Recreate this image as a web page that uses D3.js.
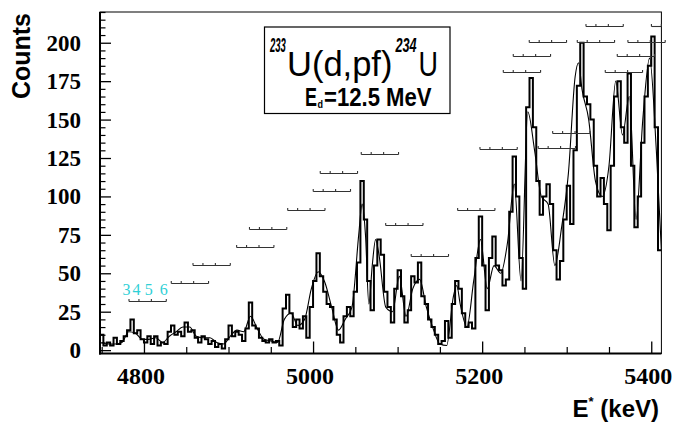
<!DOCTYPE html>
<html>
<head>
<meta charset="utf-8">
<script src="https://cdn.jsdelivr.net/npm/d3@7"></script>
<style>
  html, body { margin: 0; padding: 0; background: #fff; }
  svg { display: block; }
  .num { font-family: "Liberation Serif", "DejaVu Serif", "Times New Roman", serif; font-weight: bold; }
  .spin { font-family: "Liberation Serif", "DejaVu Serif", "Times New Roman", serif; }
  .sans { font-family: "Liberation Sans", Arial, "DejaVu Sans", sans-serif; }
</style>
</head>
<body>
<svg id="chart" width="674" height="423"></svg>
<script>
// Excitation-energy spectrum, 233U(d,pf)234U at Ed = 12.5 MeV

// Histogram: counts per 4 keV bin starting at 4748 keV
const binStart = 4748;
const binWidth = 4;
const counts = [
  10, 3, 5, 3, 8, 4, 6, 9, 13, 20,
  11, 13, 7, 5, 9, 4, 9, 3, 5, 4,
  12, 16, 10, 12, 9, 18, 12, 13, 8, 5,
  9, 7, 4, 6, 2, 4, 1, 7, 16, 9,
  12, 10, 6, 14, 31, 16, 14, 8, 6, 5,
  7, 5, 6, 3, 27, 36, 24, 15, 20, 14,
  22, 8, 28, 45, 63, 48, 38, 30, 28, 20,
  10, 5, 22, 28, 22, 38, 57, 110, 85, 45,
  26, 55, 72, 62, 38, 28, 18, 40, 52, 35,
  18, 26, 48, 44, 57, 35, 30, 20, 15, 10,
  4, 6, 19, 8, 30, 45, 40, 24, 15, 18,
  14, 60, 87, 55, 26, 60, 74, 55, 52, 42,
  46, 90, 126, 100, 60, 40, 158, 177, 145, 110,
  88, 100, 108, 95, 65, 46, 58, 85, 107, 82,
  130, 172, 200, 165, 160, 150, 120, 100, 112, 95,
  78, 120, 165, 175, 145, 135, 180, 120, 80, 100,
  135, 165, 185, 204, 145, 65
];

// Fitted spectrum (sum of band members), sampled in keV
const fitE = [
  4750, 4758, 4766, 4774, 4782, 4790, 4798, 4806, 4814, 4822,
  4830, 4838, 4846, 4854, 4862, 4870, 4878, 4886, 4894, 4902,
  4910, 4918, 4926, 4934, 4942, 4950, 4958, 4966, 4974, 4982,
  4990, 4998, 5006, 5014, 5022, 5030, 5038, 5046, 5054, 5058,
  5062, 5066, 5070, 5074, 5078, 5086, 5094, 5102, 5110, 5118,
  5126, 5134, 5142, 5150, 5158, 5166, 5170, 5174, 5182, 5190,
  5198, 5206, 5214, 5222, 5230, 5238, 5246, 5254, 5262, 5270,
  5278, 5286, 5294, 5302, 5310, 5314, 5318, 5326, 5334, 5342,
  5350, 5358, 5366, 5374, 5382, 5390, 5398, 5406, 5412
];
const fitC = [
  5, 4, 4, 5, 12, 11, 7, 7, 8, 5,
  9, 12, 15, 15, 9, 8, 8, 5, 4, 9,
  13, 12, 22, 14, 7, 6, 5, 20, 24, 16,
  20, 40, 51, 44, 28, 13, 20, 28, 75, 95,
  75, 30, 55, 72, 62, 28, 25, 48, 22, 40,
  46, 28, 14, 4, 3, 35, 42, 30, 15, 45,
  72, 40, 55, 50, 70, 108, 45, 155, 130, 100,
  95, 55, 80, 115, 178, 187, 170, 150, 110, 100,
  120, 175, 140, 165, 85, 150, 190, 130, 65
];

// Rotational bands: head energy of the I=3 member (keV), drawing level (counts), highest spin shown
const bandHead  = [4782.3, 4832.3, 4858.0, 4909.6, 4924.8, 4970.0, 5000.2, 5008.5, 5057.0, 5085.9, 5116.1, 5171.0,
                   5197.4, 5266.3, 5283.4, 5225.0, 5236.8, 5255.7, 5312.5, 5322.8, 5345.6, 5359.8, 5372.4, 5400.2];
const bandLevel = [32.0, 43.6, 55.7, 67.4, 79.0, 91.2, 103.3, 115.2, 127.3, 81.4, 61.4, 91.3,
                   131.0, 131.2, 141.0, 181.0, 191.1, 200.7, 200.7, 211.0, 181.0, 191.1, 200.7, 211.0];
const bandTopSpin = [6, 6, 6, 6, 6, 6, 6, 6, 6, 6, 6, 6, 6, 6, 6, 6, 6, 6, 6, 6, 6, 6, 6, 4];
const rotConst = 1.47;          // keV, E(I) = E(3) + A [I(I+1) - 12]
const spinLabels = ["3", "4", "5", "6"];

const xTicksMajor = [4800, 5000, 5200, 5400];
const yTicksMajor = [0, 25, 50, 75, 100, 125, 150, 175, 200];

const svg = d3.select("#chart");
const L = 100, R = 661.4, T = 12, B = 353.5;

const x = d3.scaleLinear().domain([4748, 5412]).range([L, R]);
const y = d3.scaleLinear().domain([-2.2, 220]).range([B, T]);

svg.append("defs").append("clipPath").attr("id", "plotClip")
  .append("rect").attr("x", L).attr("y", T).attr("width", R - L).attr("height", B - T);

// Frame
svg.append("rect").attr("x", L).attr("y", T).attr("width", R - L).attr("height", B - T)
  .attr("fill", "none").attr("stroke", "#000").attr("stroke-width", 1);
svg.append("line").attr("x1", L).attr("x2", L).attr("y1", T).attr("y2", B + 1)
  .attr("stroke", "#000").attr("stroke-width", 2);
svg.append("line").attr("x1", L - 1).attr("x2", R).attr("y1", B).attr("y2", B)
  .attr("stroke", "#000").attr("stroke-width", 2);

// Y axis ticks (inside) and labels
svg.append("g").attr("transform", `translate(${L},0)`)
  .call(d3.axisRight(y).tickValues(yTicksMajor).tickSize(11).tickFormat(""))
  .call(g => g.select(".domain").remove())
  .call(g => g.selectAll("line").attr("stroke", "#000").attr("stroke-width", 1.3));
const yMinor = d3.range(0, 221, 5).filter(v => v % 25 !== 0);
svg.append("g").attr("transform", `translate(${L},0)`)
  .call(d3.axisRight(y).tickValues(yMinor).tickSize(5.5).tickFormat(""))
  .call(g => g.select(".domain").remove())
  .call(g => g.selectAll("line").attr("stroke", "#000").attr("stroke-width", 1.2));
svg.append("g").selectAll("text").data(yTicksMajor).join("text")
  .attr("class", "num")
  .attr("x", 81).attr("y", d => y(d) + 8)
  .attr("text-anchor", "end")
  .style("font-size", "23px")
  .text(d => d);

// X axis ticks (inside) and labels
svg.append("g").attr("transform", `translate(0,${B})`)
  .call(d3.axisTop(x).tickValues(xTicksMajor).tickSize(12).tickFormat(""))
  .call(g => g.select(".domain").remove())
  .call(g => g.selectAll("line").attr("stroke", "#000").attr("stroke-width", 1.3));
const xMinor = d3.range(4750, 5412, 50).filter(v => !xTicksMajor.includes(v));
svg.append("g").attr("transform", `translate(0,${B})`)
  .call(d3.axisTop(x).tickValues(xMinor).tickSize(6.5).tickFormat(""))
  .call(g => g.select(".domain").remove())
  .call(g => g.selectAll("line").attr("stroke", "#000").attr("stroke-width", 1.2));
svg.append("g").selectAll("text").data(xTicksMajor).join("text")
  .attr("class", "num")
  .attr("x", d => x(d) - 3).attr("y", 384)
  .attr("text-anchor", "middle")
  .style("font-size", "24px")
  .text(d => d);

// Axis titles
svg.append("text")
  .attr("class", "sans")
  .attr("transform", "translate(30,13) rotate(-90)")
  .attr("text-anchor", "end")
  .style("font-weight", "bold").style("font-size", "25px")
  .text("Counts");
const xt = svg.append("text")
  .attr("class", "sans")
  .attr("x", 659).attr("y", 417)
  .attr("text-anchor", "end")
  .style("font-weight", "bold").style("font-size", "24px");
xt.append("tspan").text("E");
xt.append("tspan").style("font-size", "13px").attr("dy", -11).text("*");
xt.append("tspan").attr("dy", 11).text(" (keV)");

const plot = svg.append("g").attr("clip-path", "url(#plotClip)");

// Histogram outline
const histPts = counts.map((c, i) => [binStart + i * binWidth, c]);
histPts.push([binStart + counts.length * binWidth, counts[counts.length - 1]]);
plot.append("path")
  .datum(histPts)
  .attr("fill", "none").attr("stroke", "#000").attr("stroke-width", 2)
  .attr("d", d3.line().x(d => x(d[0])).y(d => y(d[1])).curve(d3.curveStepAfter));

// Fit curve
plot.append("path")
  .datum(fitE.map((e, i) => [e, fitC[i]]))
  .attr("fill", "none").attr("stroke", "#000").attr("stroke-width", 1.1)
  .attr("d", d3.line().x(d => x(d[0])).y(d => y(d[1])).curve(d3.curveMonotoneX));

// Band combs
const combs = svg.append("g").attr("stroke", "#333").attr("stroke-width", 1.1).attr("fill", "none");
bandHead.forEach((e0, k) => {
  const spins = d3.range(3, bandTopSpin[k] + 1);
  const es = spins.map(I => e0 + rotConst * (I * (I + 1) - 12));
  const yy = Math.round(y(bandLevel[k])) + 0.5;
  combs.append("line")
    .attr("x1", x(es[0])).attr("x2", x(es[es.length - 1]))
    .attr("y1", yy).attr("y2", yy);
  es.forEach(ev => {
    combs.append("line")
      .attr("x1", x(ev)).attr("x2", x(ev))
      .attr("y1", yy).attr("y2", yy - 2.5);
  });
});

// Spin labels above the first band
const firstBand = spinLabels.map(s => {
  const I = +s;
  return { s, e: bandHead[0] + rotConst * (I * (I + 1) - 12) };
});
svg.append("g").selectAll("text").data(firstBand).join("text")
  .attr("class", "spin")
  .attr("x", d => x(d.e) - 2.5).attr("y", y(bandLevel[0]) - 5.5)
  .attr("text-anchor", "middle")
  .style("font-size", "16px")
  .attr("fill", "#2fd0d6")
  .text(d => d.s);

// Reaction label box
svg.append("rect").attr("x", 264.5).attr("y", 27).attr("width", 185.5).attr("height", 86.5)
  .attr("fill", "#fff").attr("stroke", "#000").attr("stroke-width", 1.2);

// Each piece is a text scaled horizontally so the narrow lettering keeps its true extent
const piece = (txt, px, py, size, sx, opts = {}) => svg.append("text").attr("class", "sans")
  .attr("transform", `translate(${px},${py}) scale(${sx},1)`)
  .style("font-size", size + "px")
  .style("font-weight", opts.bold ? "bold" : "normal")
  .style("font-style", opts.italic ? "italic" : "normal")
  .text(txt);
piece("233", 270, 52, 19.5, 0.49, { bold: true, italic: true });
piece("U(d,pf)", 287, 75.5, 34.5, 1.0);
piece("234", 395.5, 52, 19.5, 0.65, { bold: true, italic: true });
piece("U", 418.5, 75.5, 34.5, 0.78);
piece("E", 305, 105.5, 25, 0.72, { bold: true });
piece("d", 317.5, 108, 10, 0.9, { bold: true });
piece("=12.5 MeV", 324, 105.5, 25, 0.885, { bold: true });
</script>
</body>
</html>
